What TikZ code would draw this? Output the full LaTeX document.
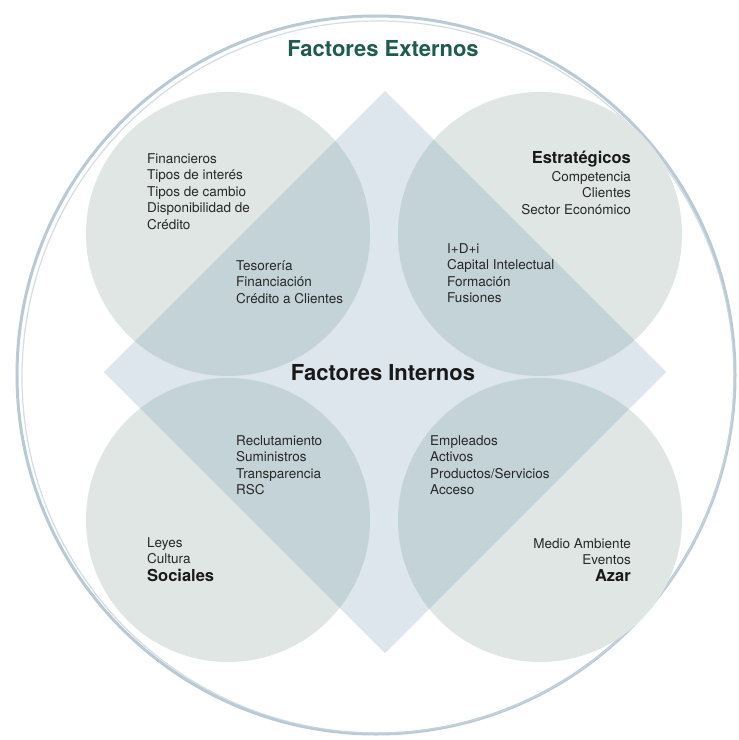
\documentclass[tikz,border=0pt]{standalone}
\usepackage{fontspec}
\setmainfont{TeX Gyre Heros}
\definecolor{circfill}{RGB}{223,230,227}
\definecolor{diamfill}{RGB}{221,229,237}
\definecolor{bothfill}{RGB}{195,211,216}
\definecolor{ringcol}{RGB}{186,202,213}
\definecolor{extgreen}{RGB}{30,92,80}
\definecolor{txtgray}{RGB}{40,40,40}
\tikzset{
  txt/.style={font=\fontsize{13.5bp}{16.5bp}\selectfont, text=txtgray, inner sep=0pt},
  lft/.style={txt, align=left, anchor=north west},
  rgt/.style={txt, align=right, anchor=north east},
  headtxt/.style={font=\fontsize{16.5bp}{19bp}\selectfont\bfseries, text=black!90, inner sep=0pt},
  titletxt/.style={font=\fontsize{22bp}{26bp}\selectfont\bfseries, inner sep=0pt, anchor=base},
  ringline/.style={draw=ringcol, line width=3bp}
}
\begin{document}
\begin{tikzpicture}[x=1bp,y=-1bp]
\useasboundingbox (0,0) rectangle (739,740);
\fill[white] (0,0) rectangle (739,740);

% key coordinates
\coordinate (ctr) at (376,375);
\coordinate (dT) at (385,91);
\coordinate (dR) at (666,372);
\coordinate (dB) at (385,653);
\coordinate (dL) at (104,372);
\coordinate (cTL) at (228,234);
\coordinate (cTR) at (540,234);
\coordinate (cBL) at (228,520);
\coordinate (cBR) at (540,520);

% outer ring (brush-like)
\draw[ringline] (ctr) circle[radius=359];
\draw[draw=ringcol!80, line width=1.2bp, opacity=0.8] ([shift={(2,2)}]ctr) circle[radius=356];

% diamond and circles
\fill[diamfill] (dT) -- (dR) -- (dB) -- (dL) -- cycle;
\foreach \c in {cTL,cTR,cBL,cBR} \fill[circfill] (\c) circle[radius=142];
\begin{scope}
  \clip (dT) -- (dR) -- (dB) -- (dL) -- cycle;
  \foreach \c in {cTL,cTR,cBL,cBR} \fill[bothfill] (\c) circle[radius=142];
\end{scope}

% titles
\node[titletxt, text=extgreen] (ext) at (383,57) {Factores Externos};
\node[titletxt, text=black!90] (int) at (383,380) {Factores Internos};

% top-left
\node[lft] (fin) at (147,153) {Financieros\\Tipos de interés\\Tipos de cambio\\Disponibilidad de\\Crédito};
\node[lft] (tes) at (236,260) {Tesorería\\Financiación\\Crédito a Clientes};

% top-right
\node[headtxt, anchor=base east] (est) at (631,163) {Estratégicos};
\node[rgt] (comp) at (631,171) {Competencia\\Clientes\\Sector Económico};
\node[lft] (idi) at (447,243) {I+D+i\\Capital Intelectual\\Formación\\Fusiones};

% bottom-left
\node[lft] (rec) at (236,435) {Reclutamiento\\Suministros\\Transparencia\\RSC};
\node[lft] (ley) at (147,537) {Leyes\\Cultura};
\node[headtxt, anchor=base west] (soc) at (147,581) {Sociales};

% bottom-right
\node[lft] (emp) at (430,435) {Empleados\\Activos\\Productos/Servicios\\Acceso};
\node[rgt] (med) at (631,538) {Medio Ambiente\\Eventos};
\node[headtxt, anchor=base east] (azar) at (631,581) {Azar};
\end{tikzpicture}
\end{document}
